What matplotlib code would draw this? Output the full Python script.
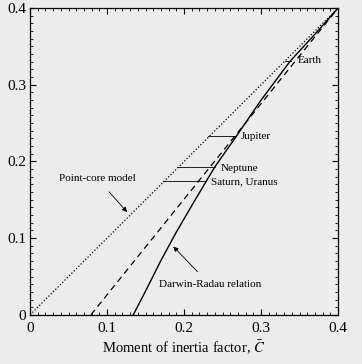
import matplotlib
matplotlib.use('Agg')
import matplotlib.pyplot as plt
from matplotlib.ticker import MultipleLocator

# Point-core model (dotted)
core_x = [0.0, 0.4]
core_y = [0.0, 0.4]

# dashed relation
dash_x = [0.079, 0.4]
dash_y = [0.0, 0.4]

# Darwin-Radau relation (solid)
dr_x = [0.134, 0.150, 0.170, 0.190, 0.215, 0.240, 0.268, 0.300, 0.338, 0.370, 0.400]
dr_y = [0.000, 0.031, 0.071, 0.108, 0.151, 0.193, 0.233, 0.280, 0.331, 0.366, 0.400]

# planets: level, span of the marker line
planets = ['Earth', 'Jupiter', 'Neptune', 'Saturn, Uranus']
planet_y = [0.331, 0.233, 0.193, 0.174]
planet_lo = [0.331, 0.231, 0.191, 0.173]
planet_hi = [0.339, 0.268, 0.240, 0.229]
label_x = [0.347, 0.274, 0.248, 0.235]
label_y = [0.331, 0.233, 0.191, 0.173]

bg = '#ececec'
plt.rcParams['font.family'] = 'Liberation Serif'
plt.rcParams['mathtext.fontset'] = 'stix'

fig = plt.figure(figsize=(3.62, 3.64), dpi=100, facecolor=bg)
ax = fig.add_axes([0.083, 0.135, 0.851, 0.843], facecolor=bg)

ax.plot(core_x, core_y, color='black', lw=0.9, ls=(0, (1, 1.6)))
ax.plot(dash_x, dash_y, color='black', lw=0.9, ls=(0, (5, 3.5)))
ax.plot(dr_x, dr_y, color='black', lw=1.0)

for name, y, lo, hi, tx, ty in zip(planets, planet_y, planet_lo, planet_hi, label_x, label_y):
    ax.plot([lo, hi], [y, y], color='black', lw=0.6)
    ax.text(tx, ty, name, fontsize=8, ha='left', va='center')

ax.annotate('Point-core model', xy=(0.126, 0.134), xytext=(0.087, 0.178),
            fontsize=8, ha='center', va='center',
            arrowprops=dict(arrowstyle='-|>', color='black', lw=0.6,
                            mutation_scale=7, shrinkA=6, shrinkB=0))
ax.annotate('Darwin-Radau relation', xy=(0.186, 0.089), xytext=(0.234, 0.039),
            fontsize=8, ha='center', va='center',
            arrowprops=dict(arrowstyle='-|>', color='black', lw=0.6,
                            mutation_scale=7, shrinkA=6, shrinkB=0))

ax.set_xlim(0, 0.4)
ax.set_ylim(0, 0.4)
ax.xaxis.set_major_locator(MultipleLocator(0.1))
ax.yaxis.set_major_locator(MultipleLocator(0.1))
ax.xaxis.set_minor_locator(MultipleLocator(0.01))
ax.yaxis.set_minor_locator(MultipleLocator(0.01))
ax.xaxis.set_major_formatter(plt.FuncFormatter(lambda v, p: '0' if v == 0 else f'{v:.1f}'))
ax.yaxis.set_major_formatter(plt.FuncFormatter(lambda v, p: '0' if v == 0 else f'{v:.1f}'))
ax.tick_params(which='both', direction='in', top=True, right=True, labelsize=11)
ax.tick_params(axis='y', pad=3)
ax.tick_params(axis='x', pad=5)
ax.tick_params(which='major', length=4, width=0.8)
ax.tick_params(which='minor', length=2, width=0.6)
for s in ax.spines.values():
    s.set_linewidth(0.9)

ax.set_xlabel(r'Moment of inertia factor, $\bar{C}$', fontsize=10.5, labelpad=3)

fig.savefig('out.png', dpi=100, facecolor=bg)
plt.close()
